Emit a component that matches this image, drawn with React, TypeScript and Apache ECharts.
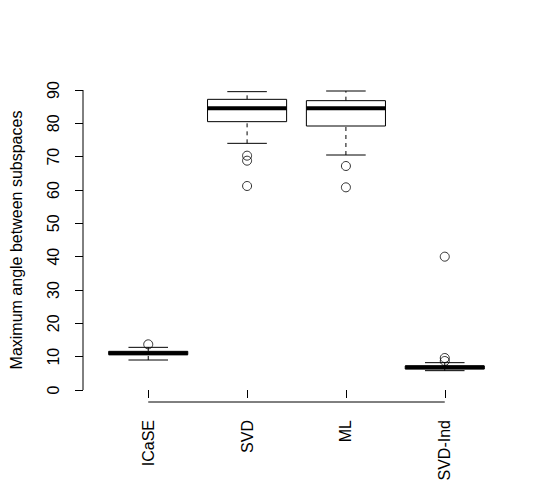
import React, { useEffect, useRef } from "react";
import * as echarts from "echarts";

const categories = ["ICaSE", "SVD", "ML", "SVD-Ind"];
const lowerWhisker = [9.0, 74.0, 70.5, 5.8];
const lowerHinge = [10.6, 80.5, 79.2, 6.3];
const medians = [11.0, 84.5, 84.5, 6.8];
const upperHinge = [11.6, 87.2, 86.8, 7.2];
const upperWhisker = [12.8, 89.5, 89.7, 8.2];
const outlierGroup = [0, 1, 1, 1, 2, 2, 3, 3, 3];
const outlierValues = [13.7, 70.3, 68.8, 61.2, 67.2, 60.8, 40.0, 9.6, 8.7];
const yTicks = [0, 10, 20, 30, 40, 50, 60, 70, 80, 90];
const xTicks = [1, 2, 3, 4];

const X_MIN = 0.34;
const X_MAX = 4.66;
const Y_MIN = -3.6;
const Y_MAX = 93.6;
const FONT = "'Liberation Sans', Arial, Helvetica, sans-serif";

export default function App() {
  const ref = useRef<HTMLDivElement>(null);
  useEffect(() => {
    if (!ref.current) return;
    const chart = echarts.init(ref.current, null, { renderer: "svg" });
    const boxData = categories.map((_, i) => [
      i + 1,
      lowerWhisker[i],
      lowerHinge[i],
      medians[i],
      upperHinge[i],
      upperWhisker[i],
    ]);
    const outlierData = outlierValues.map((v, i) => [outlierGroup[i] + 1, v]);
    const stroke = "#000";
    chart.setOption({
      animation: false,
      backgroundColor: "#fff",
      grid: { left: 78, right: 40, top: 78, bottom: 98 },
      xAxis: {
        type: "value",
        min: X_MIN,
        max: X_MAX,
        axisLine: { show: false },
        splitLine: { show: false },
        axisTick: { show: true, length: 8, customValues: xTicks, lineStyle: { color: stroke } },
        axisLabel: {
          customValues: xTicks,
          rotate: 90,
          margin: 18,
          fontSize: 16,
          fontFamily: FONT,
          color: "#000",
          formatter: (v: number) => categories[Math.round(v) - 1] ?? "",
        },
      },
      yAxis: {
        type: "value",
        min: Y_MIN,
        max: Y_MAX,
        name: "Maximum angle between subspaces",
        nameLocation: "middle",
        nameRotate: 90,
        nameGap: 59,
        nameTextStyle: { fontSize: 16, fontFamily: FONT, color: "#000" },
        axisLine: { show: false },
        splitLine: { show: false },
        axisTick: { show: true, length: 8, customValues: yTicks, lineStyle: { color: stroke } },
        axisLabel: {
          customValues: yTicks,
          rotate: 90,
          margin: 22,
          fontSize: 16,
          fontFamily: FONT,
          color: "#000",
        },
      },
      series: [
        {
          type: "custom",
          silent: true,
          data: [[0]],
          renderItem: (_p: any, api: any) => {
            const yb = api.coord([X_MIN, yTicks[0]]);
            const yt = api.coord([X_MIN, yTicks[yTicks.length - 1]]);
            const xl = api.coord([xTicks[0], Y_MIN]);
            const xr = api.coord([xTicks[xTicks.length - 1], Y_MIN]);
            return {
              type: "group",
              children: [
                { type: "line", shape: { x1: yb[0], y1: yb[1], x2: yt[0], y2: yt[1] }, style: { stroke, lineWidth: 1 } },
                { type: "line", shape: { x1: xl[0], y1: xl[1], x2: xr[0], y2: xr[1] }, style: { stroke, lineWidth: 1 } },
              ],
            };
          },
        },
        {
          type: "custom",
          silent: true,
          data: boxData,
          encode: { x: 0, y: [1, 2, 3, 4, 5] },
          renderItem: (_p: any, api: any) => {
            const x = api.value(0);
            const lo = api.value(1);
            const q1 = api.value(2);
            const med = api.value(3);
            const q3 = api.value(4);
            const hi = api.value(5);
            const half = 0.4;
            const cap = 0.2;
            const pLo = api.coord([x, lo]);
            const pQ1 = api.coord([x, q1]);
            const pQ3 = api.coord([x, q3]);
            const pHi = api.coord([x, hi]);
            const boxL = api.coord([x - half, q3]);
            const boxR = api.coord([x + half, q1]);
            const mL = api.coord([x - half, med]);
            const mR = api.coord([x + half, med]);
            const cL = api.coord([x - cap, hi])[0];
            const cR = api.coord([x + cap, hi])[0];
            return {
              type: "group",
              children: [
                { type: "line", shape: { x1: pQ3[0], y1: pQ3[1], x2: pHi[0], y2: pHi[1] }, style: { stroke, lineWidth: 1, lineDash: [4, 4] } },
                { type: "line", shape: { x1: pLo[0], y1: pLo[1], x2: pQ1[0], y2: pQ1[1] }, style: { stroke, lineWidth: 1, lineDash: [4, 4] } },
                { type: "line", shape: { x1: cL, y1: pHi[1], x2: cR, y2: pHi[1] }, style: { stroke, lineWidth: 1 } },
                { type: "line", shape: { x1: cL, y1: pLo[1], x2: cR, y2: pLo[1] }, style: { stroke, lineWidth: 1 } },
                {
                  type: "rect",
                  shape: { x: boxL[0], y: boxL[1], width: boxR[0] - boxL[0], height: boxR[1] - boxL[1] },
                  style: { fill: "#fff", stroke, lineWidth: 1 },
                },
                { type: "line", shape: { x1: mL[0], y1: mL[1], x2: mR[0], y2: mR[1] }, style: { stroke, lineWidth: 4 } },
              ],
            };
          },
        },
        {
          type: "scatter",
          data: outlierData,
          symbol: "circle",
          symbolSize: 9,
          itemStyle: { color: "rgba(255,255,255,0)", borderColor: stroke, borderWidth: 1 },
        },
      ],
    });
    return () => chart.dispose();
  }, []);
  return (
    <div
      ref={ref}
      style={{ position: "absolute", left: 0, top: 0, width: 550, height: 500 }}
    />
  );
}
